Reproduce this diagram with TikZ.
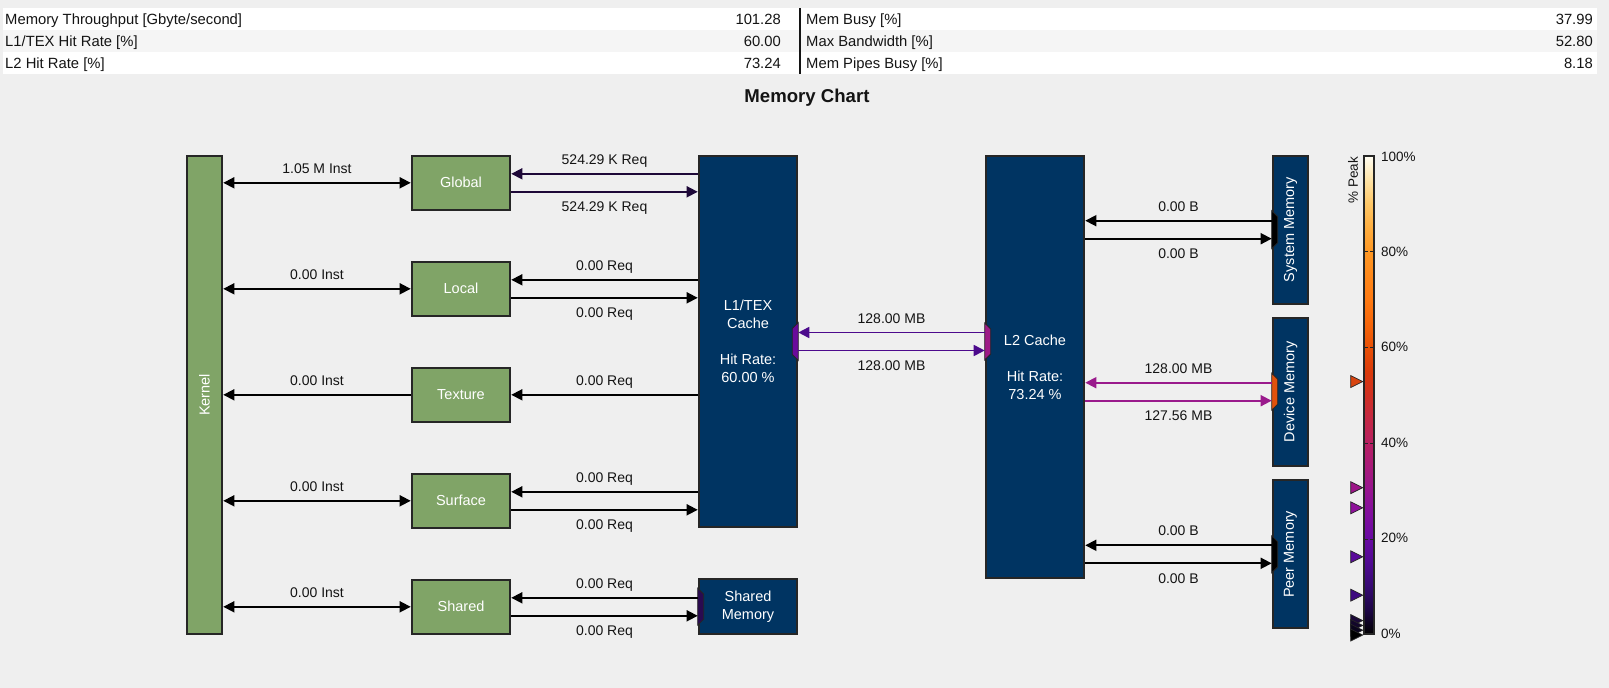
\documentclass[tikz,border=0pt]{standalone}
\usepackage{fontspec}
\setmainfont{Liberation Sans}
\usetikzlibrary{arrows.meta}
\definecolor{bgc}{HTML}{EFEFEF}
\definecolor{rowalt}{HTML}{F5F5F5}
\definecolor{gfill}{HTML}{80A467}
\definecolor{nfill}{HTML}{003462}
\definecolor{bord}{HTML}{262626}
\definecolor{ink}{HTML}{141414}
\definecolor{cglob}{HTML}{1E0838}
\definecolor{cl1l2}{HTML}{4C0A8C}
\definecolor{cdev}{HTML}{9A1A8C}
\definecolor{pl1}{HTML}{6A0A9C}
\definecolor{pl2}{HTML}{9E1A86}
\definecolor{pdev}{HTML}{E2520C}
\definecolor{pshm}{HTML}{2A0A50}
\definecolor{cb0}{HTML}{000000}
\definecolor{cb1}{HTML}{1C0644}
\definecolor{cb2}{HTML}{360A72}
\definecolor{cb3}{HTML}{500A92}
\definecolor{cb4}{HTML}{680AA2}
\definecolor{cb5}{HTML}{800E9E}
\definecolor{cb6}{HTML}{961490}
\definecolor{cb7}{HTML}{A81A7A}
\definecolor{cb8}{HTML}{B82062}
\definecolor{cb9}{HTML}{C42844}
\definecolor{cb10}{HTML}{D03022}
\definecolor{cb11}{HTML}{DA3A0A}
\definecolor{cb12}{HTML}{E85006}
\definecolor{cb13}{HTML}{F6660A}
\definecolor{cb14}{HTML}{FF7A12}
\definecolor{cb15}{HTML}{FF881A}
\definecolor{cb16}{HTML}{FF9824}
\definecolor{cb17}{HTML}{FFAE40}
\definecolor{cb18}{HTML}{FFC868}
\definecolor{cb19}{HTML}{FFE4A8}
\definecolor{cb20}{HTML}{FFFEF4}
\definecolor{mka}{HTML}{D84410}
\definecolor{mkb}{HTML}{9C1688}
\definecolor{mkc}{HTML}{8E129A}
\definecolor{mkd}{HTML}{5A0A9A}
\definecolor{mke}{HTML}{3E0A80}
\definecolor{mkf}{HTML}{1A0838}
\definecolor{mkg}{HTML}{12062A}
\definecolor{mkh}{HTML}{0A041C}
\pgfdeclareverticalshading{peakbar}{100bp}{color(0bp)=(cb0); color(25bp)=(cb0); color(27.5bp)=(cb1); color(30bp)=(cb2); color(32.5bp)=(cb3); color(35bp)=(cb4); color(37.5bp)=(cb5); color(40bp)=(cb6); color(42.5bp)=(cb7); color(45bp)=(cb8); color(47.5bp)=(cb9); color(50bp)=(cb10); color(52.5bp)=(cb11); color(55bp)=(cb12); color(57.5bp)=(cb13); color(60bp)=(cb14); color(62.5bp)=(cb15); color(65bp)=(cb16); color(67.5bp)=(cb17); color(70bp)=(cb18); color(72.5bp)=(cb19); color(75bp)=(cb20); color(100bp)=(cb20)}
\newcommand\myWF{\fontsize{14.5}{18}\selectfont}
\newcommand\myLF{\fontsize{14}{17}\selectfont}
\newcommand\myTF{\fontsize{14.8}{17}\selectfont}
\newcommand\myAF{\fontsize{13.5}{16}\selectfont}
\tikzset{
 gbox/.style={draw=bord, line width=2pt, fill=gfill, inner sep=0pt, text=white, font=\myWF, minimum width=98.6pt, minimum height=54.3pt},
 nbox/.style={draw=bord, line width=2pt, fill=nfill, inner sep=0pt, text=white, font=\myWF, align=center, minimum width=98.6pt},
 mbox/.style={draw=bord, line width=2pt, fill=nfill, inner sep=0pt, minimum width=35.6pt, minimum height=148pt},
 wl/.style={inner sep=0pt, text=white, font=\myWF},
 lbl/.style={inner sep=0pt, text=ink, font=\myLF},
 tbl/.style={inner sep=0pt, text=ink, font=\myTF, anchor=base west},
 tbv/.style={inner sep=0pt, text=ink, font=\myTF, anchor=base east},
 axl/.style={inner sep=0pt, text=ink, font=\myAF, anchor=west},
 arr/.style={line width=1.7pt, -{Triangle[length=11pt,width=11pt]}},
 darr/.style={line width=1.7pt, {Triangle[length=11pt,width=11pt]}-{Triangle[length=11pt,width=11pt]}},
 lblup/.style={midway, anchor=base, yshift=9.4pt, lbl},
 lbldn/.style={midway, anchor=base, yshift=-20pt, lbl},
 port/.style={draw=bord, line width=0.8pt},
 mk/.style={draw=bord, line width=0.7pt},
}
\begin{document}
\begin{tikzpicture}[x=1pt,y=-1pt]
\useasboundingbox (0,0) rectangle (1609,688);
\fill[bgc] (0,0) rectangle (1609,688);
% table
\fill[white] (3,8) rectangle (1597,74);
\fill[rowalt] (3,30) rectangle (1597,52);
\draw[line width=1.5pt, ink] (800,8) -- (800,74);
\node[tbl] (t1l) at (5,24) {Memory Throughput [Gbyte/second]};
\node[tbv] (t1v) at (781,24) {101.28};
\node[tbl] (t2l) at (5,46) {L1/TEX Hit Rate [\%]};
\node[tbv] (t2v) at (781,46) {60.00};
\node[tbl] (t3l) at (5,68) {L2 Hit Rate [\%]};
\node[tbv] (t3v) at (781,68) {73.24};
\node[tbl] (t4l) at (806,24) {Mem Busy [\%]};
\node[tbv] (t4v) at (1593,24) {37.99};
\node[tbl] (t5l) at (806,46) {Max Bandwidth [\%]};
\node[tbv] (t5v) at (1593,46) {52.80};
\node[tbl] (t6l) at (806,68) {Mem Pipes Busy [\%]};
\node[tbv] (t6v) at (1593,68) {8.18};
% title
\node[inner sep=0pt, font=\fontsize{18.6}{20}\selectfont\bfseries, text=ink] (title) at (807,98) {Memory Chart};
% boxes
\node[gbox, minimum width=35.6pt, minimum height=478.3pt] (kernel) at (204.5,394.85) {};
\node[wl, rotate=90] (kernellbl) at (kernel.center) {Kernel};
\node[gbox] (global) at (461,182.8) {Global};
\node[gbox] (local) at (461,288.8) {Local};
\node[gbox] (texture) at (461,394.8) {Texture};
\node[gbox] (surface) at (461,500.8) {Surface};
\node[gbox] (shared) at (461,606.8) {Shared};
\node[nbox, minimum height=371.6pt] (l1) at (748,341.5) {L1/TEX\\Cache\\ \\Hit Rate:\\60.00 \%};
\node[nbox, minimum height=54.7pt] (shmem) at (748,606.7) {Shared\\Memory};
\node[nbox, minimum height=422.6pt] (l2) at (1035,367) {L2 Cache\\ \\Hit Rate:\\73.24 \%};
\node[mbox] (sysmem) at (1290.5,229.7) {};
\node[wl, rotate=90] (syslbl) at (sysmem.center) {System Memory};
\node[mbox] (devmem) at (1290.5,391.7) {};
\node[wl, rotate=90] (devlbl) at (devmem.center) {Device Memory};
\node[mbox] (peermem) at (1290.5,554.3) {};
\node[wl, rotate=90] (peerlbl) at (peermem.center) {Peer Memory};
% ports
\coordinate (l2p) at (l2.west |- l1.east);
\filldraw[port, fill=pl1] ([yshift=19pt]l1.east) -- ([xshift=-6pt,yshift=13pt]l1.east) -- ([xshift=-6pt,yshift=-13pt]l1.east) -- ([yshift=-19pt]l1.east) -- cycle;
\filldraw[port, fill=pl2] ([yshift=18.5pt]l2p) -- ([xshift=6pt,yshift=12.5pt]l2p) -- ([xshift=6pt,yshift=-12.5pt]l2p) -- ([yshift=-18.5pt]l2p) -- cycle;
\filldraw[port, fill=black] ([yshift=19pt]sysmem.west) -- ([xshift=6pt,yshift=13pt]sysmem.west) -- ([xshift=6pt,yshift=-13pt]sysmem.west) -- ([yshift=-19pt]sysmem.west) -- cycle;
\filldraw[port, fill=pdev] ([yshift=18.5pt]devmem.west) -- ([xshift=6pt,yshift=12.5pt]devmem.west) -- ([xshift=6pt,yshift=-12.5pt]devmem.west) -- ([yshift=-18.5pt]devmem.west) -- cycle;
\filldraw[port, fill=black] ([yshift=18.5pt]peermem.west) -- ([xshift=6pt,yshift=12.5pt]peermem.west) -- ([xshift=6pt,yshift=-12.5pt]peermem.west) -- ([yshift=-18.5pt]peermem.west) -- cycle;
\filldraw[port, fill=pshm] ([yshift=18.5pt]shmem.west) -- ([xshift=6pt,yshift=12.5pt]shmem.west) -- ([xshift=6pt,yshift=-12.5pt]shmem.west) -- ([yshift=-18.5pt]shmem.west) -- cycle;
% kernel arrows
\draw[darr] (kernel.east |- global.west) -- (global.west) node[lblup] (lk1) {1.05 M Inst};
\draw[darr] (kernel.east |- local.west) -- (local.west) node[lblup] (lk2) {0.00 Inst};
\draw[arr] (texture.west) -- (kernel.east |- texture.west) node[lblup] (lk3) {0.00 Inst};
\draw[darr] (kernel.east |- surface.west) -- (surface.west) node[lblup] (lk4) {0.00 Inst};
\draw[darr] (kernel.east |- shared.west) -- (shared.west) node[lblup] (lk5) {0.00 Inst};
% L1 arrows
\coordinate (gU) at ([yshift=9pt]global.east);
\coordinate (gD) at ([yshift=-9pt]global.east);
\draw[arr, cglob] (gU -| l1.west) -- (gU) node[lblup] (lg1) {524.29 K Req};
\draw[arr, cglob] (gD) -- (gD -| l1.west) node[lbldn] (lg2) {524.29 K Req};
\coordinate (lU) at ([yshift=9pt]local.east);
\coordinate (lD) at ([yshift=-9pt]local.east);
\draw[arr] (lU -| l1.west) -- (lU) node[lblup] (ll1) {0.00 Req};
\draw[arr] (lD) -- (lD -| l1.west) node[lbldn] (ll2) {0.00 Req};
\draw[arr] (l1.west |- texture.east) -- (texture.east) node[lblup] (lt1) {0.00 Req};
\coordinate (sfU) at ([yshift=9pt]surface.east);
\coordinate (sfD) at ([yshift=-9pt]surface.east);
\draw[arr] (sfU -| l1.west) -- (sfU) node[lblup] (ls1) {0.00 Req};
\draw[arr] (sfD) -- (sfD -| l1.west) node[lbldn] (ls2) {0.00 Req};
\coordinate (shU) at ([yshift=9pt]shared.east);
\coordinate (shD) at ([yshift=-9pt]shared.east);
\draw[arr] (shU -| shmem.west) -- (shU) node[lblup] (lsh1) {0.00 Req};
\draw[arr] (shD) -- (shD -| shmem.west) node[lbldn] (lsh2) {0.00 Req};
% L1-L2
\coordinate (cU) at ([yshift=9pt]l1.east);
\coordinate (cD) at ([yshift=-9pt]l1.east);
\draw[arr, cl1l2] (cU -| l2.west) -- (cU) node[lblup] (lc1) {128.00 MB};
\draw[arr, cl1l2] (cD) -- (cD -| l2.west) node[lbldn] (lc2) {128.00 MB};
% L2-memories
\coordinate (syU) at ([yshift=9pt]sysmem.west);
\coordinate (syD) at ([yshift=-9pt]sysmem.west);
\draw[arr] (syU) -- (syU -| l2.east) node[lblup] (lm1) {0.00 B};
\draw[arr] (syD -| l2.east) -- (syD) node[lbldn] (lm2) {0.00 B};
\coordinate (dvU) at ([yshift=9pt]devmem.west);
\coordinate (dvD) at ([yshift=-9pt]devmem.west);
\draw[arr, cdev] (dvU) -- (dvU -| l2.east) node[lblup] (lm3) {128.00 MB};
\draw[arr, cdev] (dvD -| l2.east) -- (dvD) node[lbldn] (lm4) {127.56 MB};
\coordinate (peU) at ([yshift=9pt]peermem.west);
\coordinate (peD) at ([yshift=-9pt]peermem.west);
\draw[arr] (peU) -- (peU -| l2.east) node[lblup] (lm5) {0.00 B};
\draw[arr] (peD -| l2.east) -- (peD) node[lbldn] (lm6) {0.00 B};
% colour bar
\shade[shading=peakbar] (1363.7,155.7) rectangle (1374.3,634.3);
\draw[bord, line width=2pt] (1363.7,155.7) rectangle (1374.3,634.3);
\foreach \p in {20,40,60,80} {
  \draw[bord, line width=1pt] ({1364.7},{635-4.8*\p}) -- ++(3,0);
  \draw[bord, line width=1pt] ({1373.3},{635-4.8*\p}) -- ++(-3,0);
}
\foreach \v/\c in {52.8/mka, 30.7/mkb, 26.5/mkc, 16.3/mkd, 8.3/mke, 3/mkf, 2/mkg, 1/mkh, 0/black} {
  \filldraw[mk, fill=\c] ({1362.7},{635-4.8*\v}) -- ++(-12,-6) -- ++(0,12) -- cycle;
}
\node[axl] (a100) at (1381,156.7) {100\%};
\node[axl] (a80) at (1381,251.7) {80\%};
\node[axl] (a60) at (1381,347.3) {60\%};
\node[axl] (a40) at (1381,442.7) {40\%};
\node[axl] (a20) at (1381,538) {20\%};
\node[axl] (a0) at (1381,634) {0\%};
\node[inner sep=0pt, text=ink, font=\myAF, rotate=90] (peak) at (1353,180) {\% Peak};
\end{tikzpicture}
\end{document}
